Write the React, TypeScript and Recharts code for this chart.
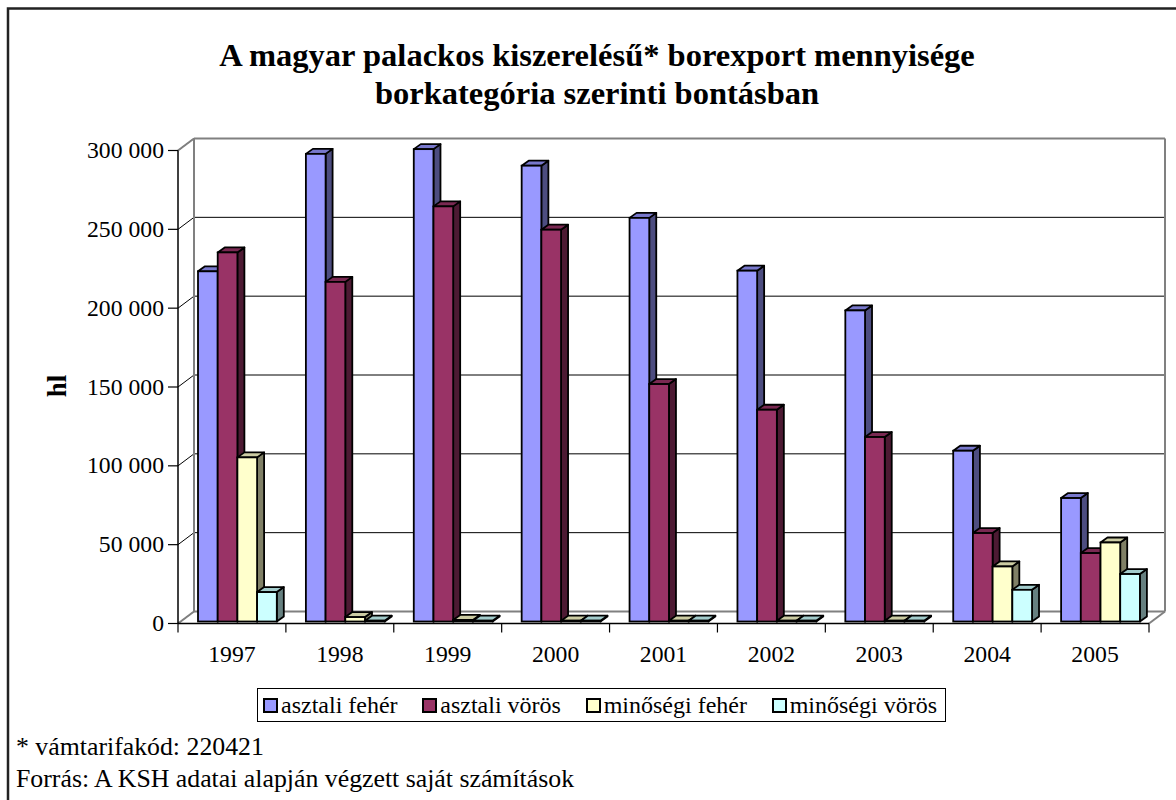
import React from 'react';
import { BarChart, Bar, XAxis, YAxis, CartesianGrid, Customized } from 'recharts';

// ---------- data ----------
const years = ['1997', '1998', '1999', '2000', '2001', '2002', '2003', '2004', '2005'];
const asztaliFeher = [222100, 296600, 299600, 289100, 256000, 222500, 197300, 108300, 78300];
const asztaliVoros = [234100, 215400, 263300, 248500, 150600, 134300, 117000, 56100, 43400];
const minosegiFeher = [104100, 2800, 1000, 500, 500, 500, 500, 34900, 50100];
const minosegiVoros = [18650, 500, 500, 500, 500, 500, 500, 20100, 30100];
const yTicks = [0, 50000, 100000, 150000, 200000, 250000, 300000];
const seriesKeys = ['af', 'av', 'mf', 'mv'];
const seriesNames = ['asztali fehér', 'asztali vörös', 'minőségi fehér', 'minőségi vörös'];
const titleLines = ['A magyar palackos kiszerelésű* borexport mennyisége', 'borkategória szerinti bontásban'];
const yAxisTitle = 'hl';
const footnotes = ['* vámtarifakód: 220421', 'Forrás: A KSH adatai alapján végzett saját számítások'];

// ---------- styles ----------
const frontColors = ['#9999FF', '#993366', '#FFFFCC', '#CCFFFF'];
const topColors = ['#7878CC', '#7A2952', '#CCCCA3', '#A3CCCC'];
const sideColors = ['#4D4D80', '#4D1A33', '#808066', '#668080'];

const data = years.map((year, i) => ({
  year,
  af: asztaliFeher[i],
  av: asztaliVoros[i],
  mf: minosegiFeher[i],
  mv: minosegiVoros[i],
}));

const W = 1176;
const H = 800;
const PLOT_LEFT = 178;
const PLOT_RIGHT = 1149;
const PLOT_TOP = 150.5;
const PLOT_BOTTOM = 623.5;
const DX = 16;
const DY = -12;
const Y_AXIS_W = 60;
const X_AXIS_H = 40;
const BAR_W = 19.7;
const BAR_SHIFT_X = 5;
const BAR_SHIFT_Y = -2;
const BAR_DX = 7;
const BAR_DY = -5;
const FONT = "'Liberation Serif', 'DejaVu Serif', serif";

const fmt = (n: number) => String(n).replace(/\B(?=(\d{3})+(?!\d))/g, ' ');

const makeShape = (idx: number) => (props: any) => {
  const { x, y, width, height } = props;
  if (x == null || y == null || isNaN(x) || isNaN(y)) return <g />;
  const h = Math.max(0, height || 0);
  const fx = x + BAR_SHIFT_X;
  const fy = y + BAR_SHIFT_Y;
  const w = width;
  const sw = 1.8;
  return (
    <g>
      <polygon
        points={`${fx + w},${fy} ${fx + w + BAR_DX},${fy + BAR_DY} ${fx + w + BAR_DX},${fy + BAR_DY + h} ${fx + w},${fy + h}`}
        fill={sideColors[idx]}
        stroke="#000"
        strokeWidth={sw}
        strokeLinejoin="round"
      />
      <polygon
        points={`${fx},${fy} ${fx + BAR_DX},${fy + BAR_DY} ${fx + w + BAR_DX},${fy + BAR_DY} ${fx + w},${fy}`}
        fill={topColors[idx]}
        stroke="#000"
        strokeWidth={sw}
        strokeLinejoin="round"
      />
      <rect x={fx} y={fy} width={w} height={h} fill={frontColors[idx]} stroke="#000" strokeWidth={sw} />
    </g>
  );
};

const gridLine = (p: any) => {
  const k = p.key ?? `h-${p.index}-${p.y1}`;
  return (
    <g key={k}>
      <line x1={p.x1} y1={p.y1} x2={p.x1 + DX} y2={p.y1 + DY} stroke="#000" strokeWidth={1} />
      <line x1={p.x1 + DX} y1={p.y1 + DY} x2={p.x2 + DX} y2={p.y2 + DY} stroke="#000" strokeWidth={1} />
    </g>
  );
};

const YTick = (props: any) => {
  const { y, payload } = props;
  return (
    <text x={PLOT_LEFT - 14} y={y + 7.5} textAnchor="end" style={{ fontFamily: FONT }} fontSize={23.7} fill="#000">
      {fmt(payload.value)}
    </text>
  );
};

const XTick = (props: any) => {
  const { x, payload, index } = props;
  const band = (PLOT_RIGHT - PLOT_LEFT) / years.length;
  const left = x - band / 2;
  const right = x + band / 2;
  return (
    <g>
      <line x1={left} y1={PLOT_BOTTOM} x2={left} y2={PLOT_BOTTOM + 9} stroke="#000" strokeWidth={1.2} />
      {index === years.length - 1 && (
        <line x1={right} y1={PLOT_BOTTOM} x2={right} y2={PLOT_BOTTOM + 9} stroke="#000" strokeWidth={1.2} />
      )}
      <text x={x} y={PLOT_BOTTOM + 38.5} textAnchor="middle" style={{ fontFamily: FONT }} fontSize={23.7} fill="#000">
        {payload.value}
      </text>
    </g>
  );
};

const Frame = () => {
  const g = '#808080';
  return (
    <g>
      <line x1={PLOT_LEFT + DX} y1={PLOT_TOP + DY} x2={PLOT_LEFT + DX} y2={PLOT_BOTTOM + DY} stroke={g} strokeWidth={2} />
      <line x1={PLOT_RIGHT + DX} y1={PLOT_TOP + DY} x2={PLOT_RIGHT + DX} y2={PLOT_BOTTOM + DY} stroke={g} strokeWidth={2} />
      <line x1={PLOT_LEFT + DX} y1={PLOT_TOP + DY} x2={PLOT_RIGHT + DX} y2={PLOT_TOP + DY} stroke={g} strokeWidth={2} />
      <line x1={PLOT_LEFT + DX} y1={PLOT_BOTTOM + DY} x2={PLOT_RIGHT + DX} y2={PLOT_BOTTOM + DY} stroke={g} strokeWidth={2} />
      <line x1={PLOT_LEFT} y1={PLOT_TOP} x2={PLOT_LEFT + DX} y2={PLOT_TOP + DY} stroke={g} strokeWidth={2} />
      <line x1={PLOT_LEFT} y1={PLOT_BOTTOM} x2={PLOT_LEFT + DX} y2={PLOT_BOTTOM + DY} stroke={g} strokeWidth={2} />
      <line x1={PLOT_RIGHT} y1={PLOT_BOTTOM} x2={PLOT_RIGHT + DX} y2={PLOT_BOTTOM + DY} stroke={g} strokeWidth={2} />
    </g>
  );
};

const Texts = () => (
  <g style={{ fontFamily: FONT }} fill="#000">
    <rect x={8} y={8.5} width={1200} height={900} fill="none" stroke="#222" strokeWidth={2.5} />
    <text x={597} y={66} textAnchor="middle" style={{ fontFamily: FONT }} fontSize={32.5} fontWeight="bold">{titleLines[0]}</text>
    <text x={597} y={104} textAnchor="middle" style={{ fontFamily: FONT }} fontSize={32.5} fontWeight="bold">{titleLines[1]}</text>
    <text x={66} y={386} textAnchor="middle" style={{ fontFamily: FONT }} fontSize={27} fontWeight="bold" transform="rotate(-90, 66, 386)">{yAxisTitle}</text>
    <text x={16} y={755} style={{ fontFamily: FONT }} fontSize={25.8}>{footnotes[0]}</text>
    <text x={16} y={787} style={{ fontFamily: FONT }} fontSize={25.8}>{footnotes[1]}</text>
  </g>
);

const LegendBox = () => (
  <div
    style={{
      position: 'absolute',
      left: 257,
      top: 688,
      width: 689,
      height: 34,
      boxSizing: 'border-box',
      border: '1.5px solid #000',
      background: '#fff',
      display: 'flex',
      alignItems: 'center',
      justifyContent: 'space-between',
      padding: '0 8px 0 5px',
      fontFamily: FONT,
      fontSize: 24,
      whiteSpace: 'nowrap',
    }}
  >
    {seriesNames.map((name, i) => (
      <div key={name} style={{ display: 'flex', alignItems: 'center' }}>
        <span
          style={{
            display: 'inline-block',
            width: 11,
            height: 11,
            border: '2px solid #000',
            background: frontColors[i],
            marginRight: 3,
          }}
        />
        <span>{name}</span>
      </div>
    ))}
  </div>
);

export default function App() {
  return (
    <div style={{ position: 'fixed', left: 0, top: 0, width: W, height: H, background: '#fff', overflow: 'hidden', fontFamily: FONT }}>
      <BarChart
        width={W}
        height={H}
        data={data}
        barGap={0}
        margin={{
          top: PLOT_TOP,
          right: W - PLOT_RIGHT,
          bottom: H - PLOT_BOTTOM - X_AXIS_H,
          left: PLOT_LEFT - Y_AXIS_W,
        }}
      >
        <Customized component={<Texts />} />
        <CartesianGrid vertical={false} horizontal={gridLine} />
        <Customized component={<Frame />} />
        <XAxis
          dataKey="year"
          height={X_AXIS_H}
          interval={0}
          axisLine={{ stroke: '#000', strokeWidth: 1.5 }}
          tickLine={false}
          tick={<XTick />}
        />
        <YAxis
          width={Y_AXIS_W}
          domain={[0, 300000]}
          ticks={yTicks}
          interval={0}
          tickSize={10}
          axisLine={{ stroke: '#000', strokeWidth: 1.5 }}
          tickLine={{ stroke: '#000', strokeWidth: 1.2 }}
          tick={<YTick />}
        />
        {seriesKeys.map((k, i) => (
          <Bar key={k} dataKey={k} name={seriesNames[i]} barSize={BAR_W} shape={makeShape(i)} isAnimationActive={false} />
        ))}
      </BarChart>
      <LegendBox />
    </div>
  );
}
